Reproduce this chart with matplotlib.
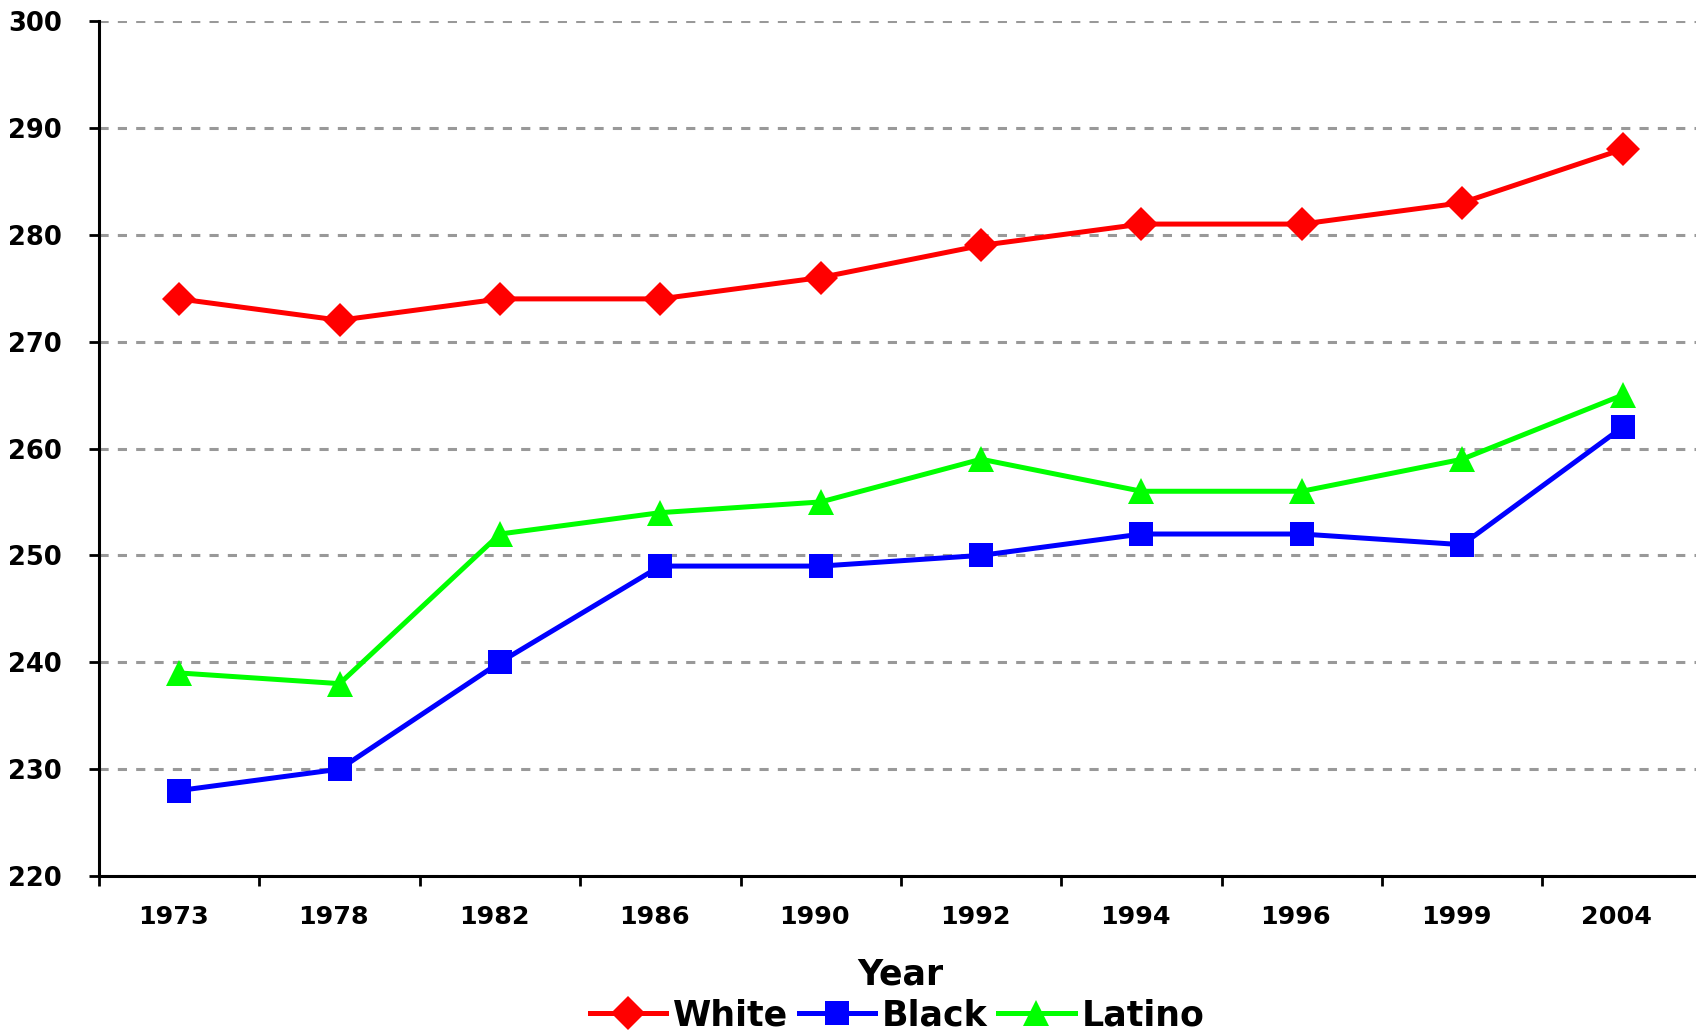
import matplotlib
matplotlib.use("Agg")
import matplotlib.pyplot as plt
import matplotlib.transforms as transforms
import numpy as np

years = ["1973", "1978", "1982", "1986", "1990", "1992", "1994", "1996", "1999", "2004"]
white = [274, 272, 274, 274, 276, 279, 281, 281, 283, 288]
black = [228, 230, 240, 249, 249, 250, 252, 252, 251, 262]
latino = [239, 238, 252, 254, 255, 259, 256, 256, 259, 265]
y_ticks = [220, 230, 240, 250, 260, 270, 280, 290, 300]

plt.rcParams['font.family'] = ['DejaVu Sans']
plt.rcParams['font.weight'] = 'bold'

fig = plt.figure(figsize=(16.96, 10.30), dpi=100)
ax = fig.add_axes([0.0584, 0.1495, 0.9456, 0.8301])

x = np.arange(len(years))
series = [
    ("White", white, "#ff0000", "D", 17),
    ("Black", black, "#0000ff", "s", 17),
    ("Latino", latino, "#00ff00", "^", 19),
]
for name, vals, col, mk, ms in series:
    ax.plot(x, vals, color=col, linewidth=3.6, marker=mk, markersize=ms,
            markeredgewidth=0, label=name, zorder=3, clip_on=False)

ax.set_xlim(-0.5, len(years) - 0.5)
ax.set_ylim(220, 300)
ax.set_yticks(y_ticks)
ax.set_yticklabels([str(v) for v in y_ticks], fontsize=18.5, fontweight='bold')

# labels on categories, tick marks between them (excel style)
ax.set_xticks(x)
ax.set_xticklabels(years, fontsize=18.3, fontweight='bold')
ax.set_xticks(np.arange(-0.5, len(years) - 0.5, 1.0), minor=True)
ax.tick_params(axis='x', which='major', length=0, pad=21)
ax.tick_params(axis='x', which='minor', length=7, width=2, direction='out')
ax.tick_params(axis='y', which='major', length=7.5, width=2, direction='out', pad=19)

# nudge year labels a little to the left
shift = transforms.ScaledTranslation(-6 / 100, 0, fig.dpi_scale_trans)
for lbl in ax.get_xticklabels():
    lbl.set_transform(lbl.get_transform() + shift)

ax.grid(axis='y', color='#999999', linestyle=(0, (3, 3)), linewidth=2.2)
ax.set_axisbelow(True)

ax.spines['top'].set_visible(False)
ax.spines['right'].set_visible(False)
ax.spines['left'].set_linewidth(2.2)
ax.spines['bottom'].set_linewidth(2.2)

fig.text(0.531, 0.054, "Year", ha='center', va='center', fontsize=25, fontweight='bold')

fig.legend(loc='lower center', bbox_to_anchor=(0.529, -0.026), ncol=3, frameon=False,
           prop={'size': 25, 'weight': 'bold'}, handlelength=2.2, handletextpad=0.2,
           columnspacing=0.3, borderpad=0.2)

plt.savefig("out.png", dpi=100)
